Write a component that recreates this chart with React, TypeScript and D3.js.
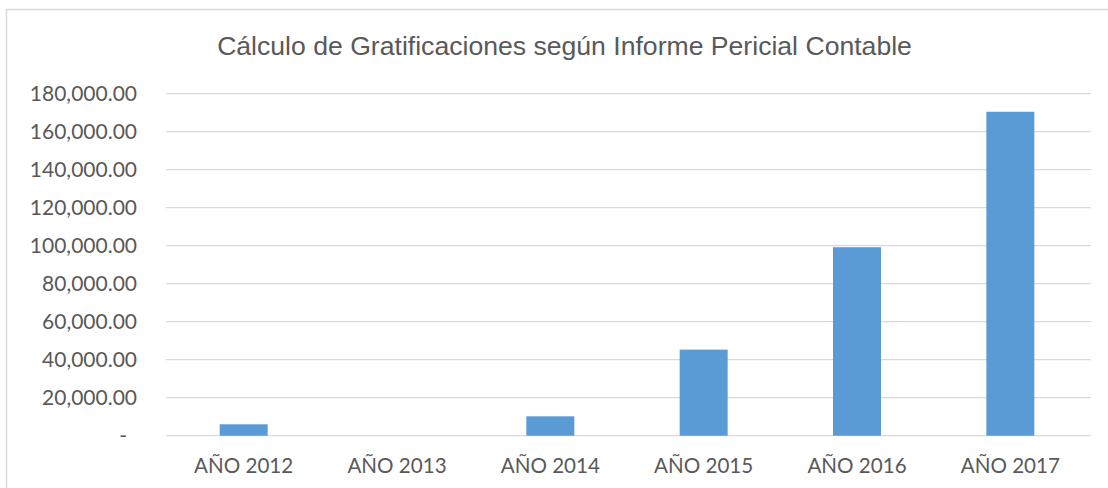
import React from "react";
import * as d3 from "d3";

const WIDTH = 1108;
const HEIGHT = 488;

const TITLE = "Cálculo de Gratificaciones según Informe Pericial Contable";
const CATEGORIES = ["AÑO 2012", "AÑO 2013", "AÑO 2014", "AÑO 2015", "AÑO 2016", "AÑO 2017"];
const VALUES = [6000, 0, 10200, 45300, 99200, 170500];
const Y_TICKS = [0, 20000, 40000, 60000, 80000, 100000, 120000, 140000, 160000, 180000];

const TEXT_COLOR = "#595959";
const GRID_COLOR = "#d9d9d9";
const BAR_COLOR = "#5b9bd5";

const fmt = d3.format(",.2f");

export default function App() {
  const x = d3
    .scaleBand<string>()
    .domain(CATEGORIES)
    .range([167, 1087])
    .paddingInner(0.687)
    .paddingOuter(0.3435);
  const y = d3.scaleLinear().domain([0, 180000]).range([435.7, 93.7]);

  return (
    <svg
      width={WIDTH}
      height={HEIGHT}
      style={{ position: "fixed", left: 0, top: 0, background: "#fff" }}
    >
      <rect x={6.5} y={9.5} width={WIDTH + 20} height={HEIGHT + 20} fill="#fff" stroke={GRID_COLOR} strokeWidth={1.5} />
      <text
        x={564.5}
        y={55}
        textAnchor="middle"
        fill={TEXT_COLOR}
        fontFamily="'Liberation Sans', Arial, sans-serif"
        fontSize={26.6}
      >
        {TITLE}
      </text>
      {Y_TICKS.map((t) => (
        <g key={t}>
          <line x1={166} x2={1091} y1={y(t)} y2={y(t)} stroke={GRID_COLOR} strokeWidth={1.2} />
          <text
            x={t === 0 ? 127 : 137}
            y={y(t)}
            dy="0.35em"
            textAnchor="end"
            fill={TEXT_COLOR}
            fontFamily="Lato, 'Liberation Sans', sans-serif"
            fontSize={21}
          >
            {t === 0 ? "-" : fmt(t)}
          </text>
        </g>
      ))}
      {CATEGORIES.map((c, i) => (
        <g key={c}>
          {VALUES[i] > 0 && (
            <rect
              x={x(c)}
              y={y(VALUES[i])}
              width={x.bandwidth()}
              height={y(0) - y(VALUES[i])}
              fill={BAR_COLOR}
            />
          )}
          <text
            x={(x(c) ?? 0) + x.bandwidth() / 2}
            y={473}
            textAnchor="middle"
            fill={TEXT_COLOR}
            fontFamily="Lato, 'Liberation Sans', sans-serif"
            fontSize={20.6}
          >
            {c}
          </text>
        </g>
      ))}
    </svg>
  );
}
